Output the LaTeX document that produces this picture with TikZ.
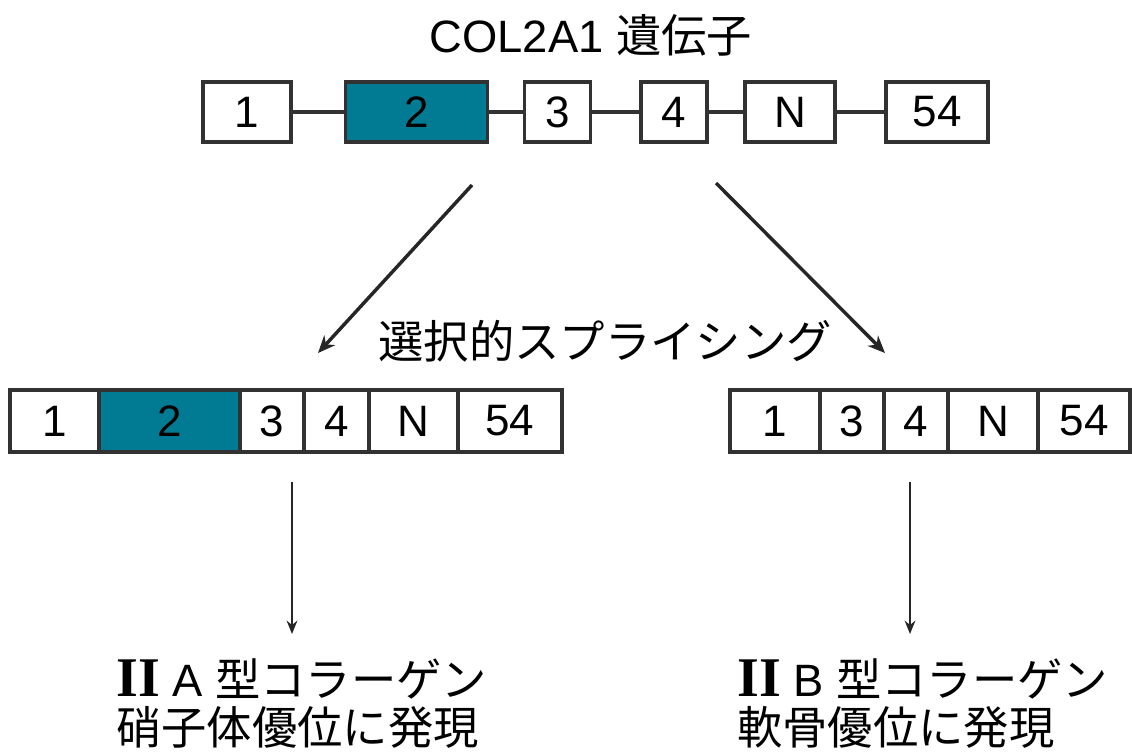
\documentclass[tikz,border=0pt]{standalone}
\usepackage{fontspec}
\setmainfont{Liberation Sans}
\newfontfamily\jp{Noto Sans CJK JP}
\newfontfamily\rom{Liberation Serif}
\usetikzlibrary{arrows.meta}
\definecolor{teal2}{RGB}{0,123,147}
\definecolor{edge}{RGB}{50,50,50}
\tikzset{
  exon/.style={draw=edge, line width=2.4pt, fill=white, inner sep=0pt, outer sep=0pt,
    minimum height=#1, font=\fontsize{33}{38}\selectfont},
  exon/.default=45pt,
  hot/.style={fill=teal2},
  link/.style={draw=edge, line width=2.4pt},
  arr/.style={draw=black!85, line width=2.6pt, -{Stealth[length=13pt,width=11pt]}},
  varr/.style={draw=black!85, line width=1.9pt, -{Stealth[length=10pt,width=8pt]}},
  lbl/.style={inner sep=0pt, font=\fontsize{34}{40}\selectfont},
  roman/.style={}
}
\newcommand{\RomII}{{\rom\bfseries\fontsize{42}{44}\selectfont II}}
\begin{document}
\begin{tikzpicture}[x=0.75pt, y=-0.75pt]
\useasboundingbox (0,0) rectangle (1132,751);
% title
\node[lbl, anchor=base] (title) at (591,52) {COL2A1 {\jp 遺伝子}};
% top gene row
\node[exon, minimum width=66pt] (t1) at (247,112) {1};
\node[exon, hot, minimum width=107pt] (t2) at (416.5,112) {2};
\node[exon, minimum width=49pt] (t3) at (557.5,112) {3};
\node[exon, minimum width=49.5pt] (t4) at (674,112) {4};
\node[exon, minimum width=67.5pt] (tN) at (790,112) {N};
\node[exon, minimum width=76.5pt] (t54) at (937,112) {54};
\draw[link] (t1) -- (t2);
\draw[link] (t2) -- (t3);
\draw[link] (t3) -- (t4);
\draw[link] (t4) -- (tN);
\draw[link] (tN) -- (t54);
% splicing arrows
\coordinate (la) at (472,185);
\coordinate (lb) at (318,353);
\coordinate (ra) at (716,183);
\coordinate (rb) at (885,353);
\draw[arr] (la) -- (lb);
\draw[arr] (ra) -- (rb);
\node[lbl, anchor=base] (splice) at (605,358) {\jp 選択的スプライシング};
% left mRNA
\node[exon=46.5pt, minimum width=66.75pt] (l1) at (54.5,421) {1};
\node[exon=46.5pt, hot, minimum width=105.75pt] (l2) at (169.5,421) {2};
\node[exon=46.5pt, minimum width=48pt] (l3) at (272,421) {3};
\node[exon=46.5pt, minimum width=48.75pt] (l4) at (336.5,421) {4};
\node[exon=46.5pt, minimum width=66.75pt] (lN) at (413.5,421) {N};
\node[exon=46.5pt, minimum width=78pt] (l54) at (510,421) {54};
% right mRNA
\node[exon=46.5pt, minimum width=67.5pt] (r1) at (775,421) {1};
\node[exon=46.5pt, minimum width=48pt] (r3) at (852,421) {3};
\node[exon=46.5pt, minimum width=48pt] (r4) at (916,421) {4};
\node[exon=46.5pt, minimum width=67.5pt] (rN) at (993,421) {N};
\node[exon=46.5pt, minimum width=69pt] (r54) at (1084,421) {54};
% down arrows
\coordinate (lda) at (292,482);
\coordinate (ldb) at (292,634);
\coordinate (rda) at (910,482);
\coordinate (rdb) at (910,634);
\draw[varr] (lda) -- (ldb);
\draw[varr] (rda) -- (rdb);
% outcome labels
\node[lbl, anchor=base west] (a1) at (116,696) {\RomII\ A {\jp 型コラーゲン}};
\node[lbl, anchor=base west] (a2) at (116,744) {\jp 硝子体優位に発現};
\node[lbl, anchor=base west] (b1) at (737,696) {\RomII\ B {\jp 型コラーゲン}};
\node[lbl, anchor=base west] (b2) at (737,744) {\jp 軟骨優位に発現};
\end{tikzpicture}
\end{document}
